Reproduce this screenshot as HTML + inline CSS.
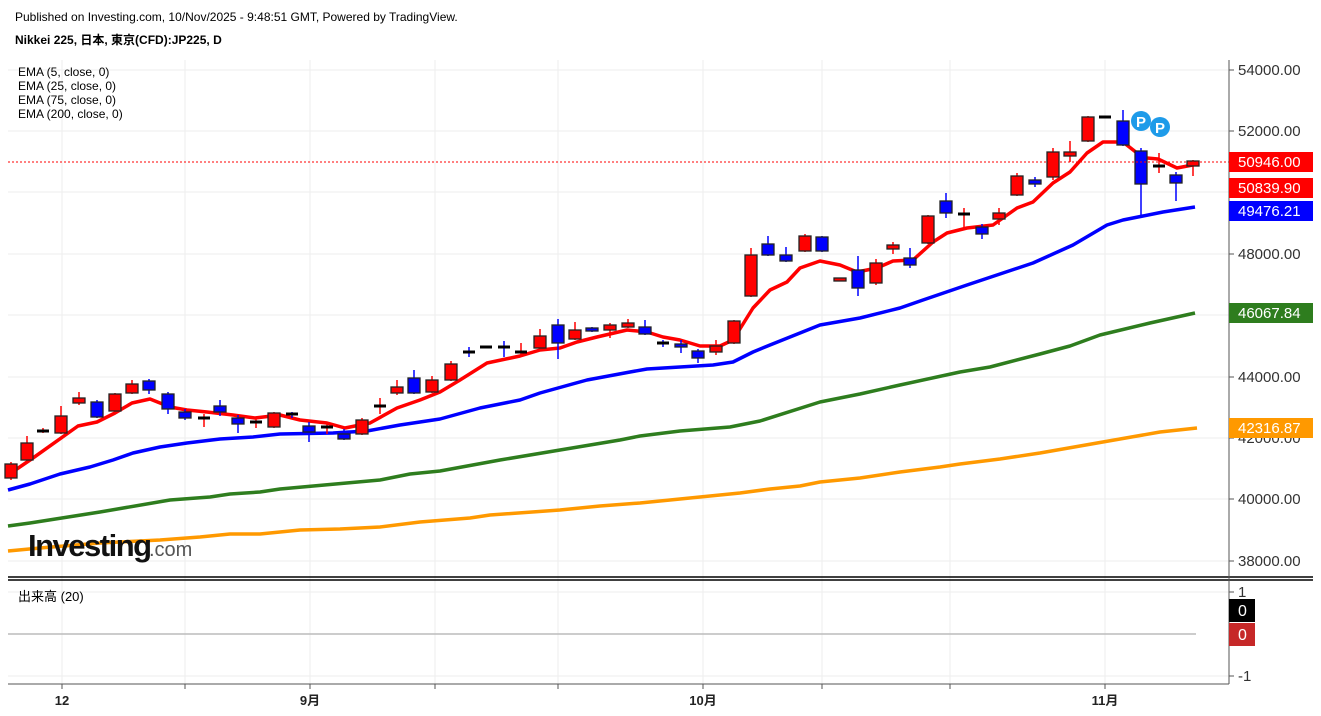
<!DOCTYPE html>
<html><head><meta charset="utf-8"><style>
html,body{margin:0;padding:0;background:#fff;width:1321px;height:716px;overflow:hidden}
svg{display:block;font-family:"Liberation Sans","Noto Sans CJK JP",sans-serif}
</style></head><body>
<svg id="s" width="1321" height="716" xmlns="http://www.w3.org/2000/svg">
<rect width="1321" height="716" fill="#fff"/>
<g stroke="#eeeeee" stroke-width="1">
<line x1="8" x2="1229" y1="70" y2="70"/><line x1="8" x2="1229" y1="131" y2="131"/><line x1="8" x2="1229" y1="192" y2="192"/><line x1="8" x2="1229" y1="254" y2="254"/><line x1="8" x2="1229" y1="315" y2="315"/><line x1="8" x2="1229" y1="377" y2="377"/><line x1="8" x2="1229" y1="438" y2="438"/><line x1="8" x2="1229" y1="499" y2="499"/><line x1="8" x2="1229" y1="561" y2="561"/>
<line x1="8" x2="1229" y1="592" y2="592"/><line x1="8" x2="1229" y1="676" y2="676"/>
<g id="vg"></g>
</g>
<text x="15" y="21" font-size="12" fill="#000">Published on Investing.com, 10/Nov/2025 - 9:48:51 GMT, Powered by TradingView.</text>
<text x="15" y="44" font-size="12" font-weight="bold" fill="#000">Nikkei 225, 日本, 東京(CFD):JP225, D</text>
<g font-size="12" fill="#000"><text x="18" y="76">EMA (5, close, 0)</text><text x="18" y="90">EMA (25, close, 0)</text><text x="18" y="104">EMA (75, close, 0)</text><text x="18" y="118">EMA (200, close, 0)</text></g>
<g id="lines" fill="none" stroke-width="3.5" stroke-linejoin="round"></g>
<g id="cs"></g>
<line x1="8" x2="1229" y1="162" y2="162" stroke="#f00" stroke-width="1" stroke-dasharray="2,2"/>
<text x="28" y="556" font-size="31" font-weight="bold" fill="#111" letter-spacing="-1.5">Investing</text>
<text x="149" y="556" font-size="20" fill="#555">.com</text>
<circle cx="1141" cy="121" r="10" fill="#1e9be9"/><text x="1141" y="127" font-size="15" font-weight="bold" fill="#fff" text-anchor="middle">P</text>
<circle cx="1160" cy="127" r="10" fill="#1e9be9"/><text x="1160" y="133" font-size="15" font-weight="bold" fill="#fff" text-anchor="middle">P</text>
<line x1="8" x2="1196" y1="634" y2="634" stroke="#bbb" stroke-width="1.5"/>
<line x1="8" x2="1313" y1="577" y2="577" stroke="#000" stroke-width="1.5"/>
<line x1="8" x2="1313" y1="580" y2="580" stroke="#000" stroke-width="1.5"/>
<line x1="1229" x2="1229" y1="60" y2="684" stroke="#555" stroke-width="1"/>
<line x1="8" x2="1229" y1="684" y2="684" stroke="#555" stroke-width="1"/>
<g id="ax" font-size="15" fill="#333"></g>
<text x="18" y="601" font-size="13" fill="#000">出来高 (20)</text>
</svg>
<script>
const ns='http://www.w3.org/2000/svg';
function el(p,t,a,txt){const e=document.createElementNS(ns,t);for(const k in a)e.setAttribute(k,a[k]);if(txt!=null)e.textContent=txt;document.getElementById(p).appendChild(e);return e;}
[62,185,310,435,558,703,822,950,1105].forEach(x=>{el('vg','line',{x1:x,x2:x,y1:60,y2:684});el('ax','line',{x1:x,x2:x,y1:684,y2:689,stroke:'#555'});});
const C=[[11,464,478,462,480,'r'],[27,443,460,436,461,'r'],[43,431,431,428,433,'k'],[61,416,433,406,434,'r'],[79,398,403,392,405,'r'],[97,402,417,400,418,'b'],[115,394,411,393,412,'r'],[132,384,393,380,394,'r'],[149,381,390,379,394,'b'],[168,394,409,392,414,'b'],[185,412,418,409,420,'b'],[204,418,418,414,427,'r'],[220,406,412,400,416,'b'],[238,418,424,415,433,'b'],[256,422,422,418,428,'r'],[274,413,427,412,428,'r'],[292,414,414,412,418,'b'],[309,426,432,422,442,'b'],[327,427,427,423,434,'r'],[344,434,439,429,440,'b'],[362,420,434,418,435,'r'],[380,406,406,398,414,'r'],[397,387,393,380,395,'r'],[414,378,393,370,394,'b'],[432,380,392,376,393,'r'],[451,364,380,361,381,'r'],[469,352,352,347,357,'b'],[486,347,347,347,347,'k'],[504,347,347,341,357,'b'],[521,352,352,343,356,'r'],[540,336,348,329,349,'r'],[558,325,343,319,359,'b'],[575,330,339,322,340,'r'],[592,328,331,327,332,'b'],[610,325,330,323,338,'r'],[628,323,327,319,328,'r'],[645,327,334,320,335,'b'],[663,343,343,340,347,'b'],[681,344,347,340,353,'b'],[698,351,358,349,363,'b'],[716,346,352,340,355,'r'],[734,321,343,320,344,'r'],[751,255,296,248,297,'r'],[768,244,255,236,256,'b'],[786,255,261,247,262,'b'],[805,236,251,234,252,'r'],[822,237,251,236,252,'b'],[840,278,281,278,281,'r'],[858,270,288,256,296,'b'],[876,263,283,259,285,'r'],[893,245,249,242,254,'r'],[910,258,265,248,268,'b'],[928,216,243,215,244,'r'],[946,201,213,193,218,'b'],[964,214,214,208,228,'r'],[982,227,234,224,239,'b'],[999,213,219,208,225,'r'],[1017,176,195,173,196,'r'],[1035,180,184,177,187,'b'],[1053,152,177,148,180,'r'],[1070,152,156,141,162,'r'],[1088,117,141,116,142,'r'],[1105,117,117,117,117,'k'],[1123,121,145,110,146,'b'],[1141,151,184,148,216,'b'],[1159,166,166,153,173,'r'],[1176,175,183,172,201,'b'],[1193,161,166,160,176,'r']];
const col={r:'#ff0000',b:'#0000ff',k:'#000'};
C.forEach(c=>{const[x,t,b,wt,wb,k]=c;
 el('cs','line',{x1:x,x2:x,y1:wt,y2:wb,stroke:k=='k'?(x==1105||x==486?'#000':'#f00'):col[k],'stroke-width':1.5});
 if(b-t<2){el('cs','rect',{x:x-6,y:t-1.5,width:12,height:3,fill:'#000'});}
 else el('cs','rect',{x:x-6,y:t,width:12,height:b-t,fill:col[k],stroke:'#222','stroke-width':1.3});
});
const L={
'#0000ff':[[8,490],[30,484],[60,474],[90,467],[113,460],[133,453],[160,447],[187,443],[220,439],[253,437],[280,434],[333,433],[367,431],[400,425],[420,422],[440,419],[480,408],[520,400],[540,393],[587,380],[630,372],[647,369],[680,367],[713,365],[733,362],[753,352],[770,345],[790,337],[820,325],[860,318],[900,308],[923,300],[967,285],[1033,263],[1073,245],[1107,225],[1123,220],[1143,216],[1163,212],[1195,207]],
'#2e7d1e':[[8,526],[30,523],[100,512],[170,500],[210,497],[230,494],[260,492],[280,489],[380,480],[410,474],[440,471],[500,460],[560,450],[620,440],[640,436],[680,431],[730,427],[760,421],[820,402],[860,394],[900,385],[960,372],[990,367],[1040,354],[1070,346],[1100,335],[1150,323],[1195,313]],
'#ff9900':[[8,551],[40,548],[100,543],[160,540],[200,537],[230,534],[260,534],[300,530],[340,529],[380,527],[420,522],[470,518],[490,515],[560,510],[600,506],[640,503],[700,497],[740,493],[770,489],[800,486],[820,482],[860,478],[900,472],[940,467],[960,464],[1000,459],[1040,453],[1080,446],[1120,439],[1160,432],[1197,428]],
'#ff0000':[[8,475],[33,458],[78,426],[97,422],[115,413],[132,403],[150,399],[170,407],[187,410],[207,412],[233,415],[255,418],[280,415],[300,420],[327,423],[345,428],[370,423],[397,408],[420,400],[440,392],[460,380],[487,363],[520,356],[540,350],[560,348],[577,342],[597,337],[627,330],[647,332],[663,337],[680,340],[700,346],[720,346],[733,340],[753,308],[770,290],[787,282],[800,268],[820,261],[840,265],[857,272],[877,268],[893,261],[913,260],[933,242],[947,233],[967,228],[993,225],[1017,208],[1033,202],[1053,183],[1070,172],[1087,153],[1103,142],[1123,142],[1137,153],[1147,158],[1158,159],[1177,168],[1198,164]]};
for(const k in L)el('lines','polyline',{points:L[k].map(p=>p.join(',')).join(' '),stroke:k});
[[70,'54000.00'],[131,'52000.00'],[254,'48000.00'],[377,'44000.00'],[438,'42000.00'],[499,'40000.00'],[561,'38000.00']].forEach(a=>{el('ax','line',{x1:1229,x2:1234,y1:a[0],y2:a[0],stroke:'#555'});el('ax','text',{x:1238,y:a[0]+5},a[1]);});
[[592,'1'],[676,'-1']].forEach(a=>{el('ax','line',{x1:1229,x2:1234,y1:a[0],y2:a[0],stroke:'#555'});el('ax','text',{x:1238,y:a[0]+5},a[1]);});
[[162,'#ff0000','50946.00'],[188,'#ff0000','50839.90'],[211,'#0000ff','49476.21'],[313,'#2e7d1e','46067.84'],[428,'#ff9900','42316.87']].forEach(a=>{el('ax','rect',{x:1229,y:a[0]-10,width:84,height:20,fill:a[1]});el('ax','text',{x:1238,y:a[0]+5,fill:'#fff'},a[2]);});
el('ax','rect',{x:1229,y:599,width:26,height:23,fill:'#000'});el('ax','text',{x:1238,y:616,fill:'#fff','font-size':'16'},'0');
el('ax','rect',{x:1229,y:623,width:26,height:23,fill:'#c62828'});el('ax','text',{x:1238,y:640,fill:'#fff','font-size':'16'},'0');
[[62,'12'],[310,'9月'],[703,'10月'],[1105,'11月']].forEach(a=>el('ax','text',{x:a[0],y:705,'text-anchor':'middle','font-weight':'bold','font-size':'13',fill:'#222'},a[1]));
</script>
</body></html>
